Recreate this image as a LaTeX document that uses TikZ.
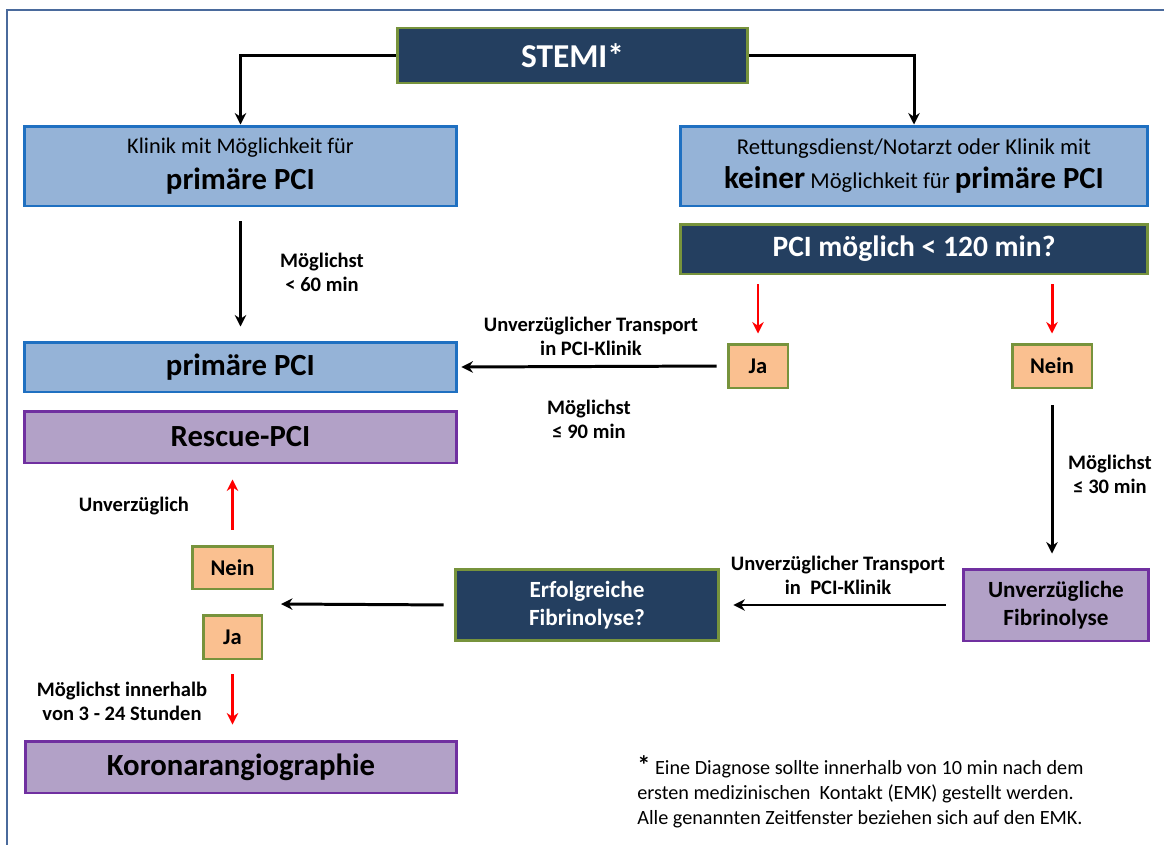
\documentclass[tikz,border=0pt]{standalone}
\usepackage{fontspec}
\setmainfont{Carlito}
\usetikzlibrary{arrows.meta,calc}
\definecolor{navy}{HTML}{243F60}
\definecolor{gborder}{HTML}{77933C}
\definecolor{bfill}{HTML}{95B3D7}
\definecolor{bborder}{HTML}{1F70C1}
\definecolor{pfill}{HTML}{B2A1C7}
\definecolor{pborder}{HTML}{7030A0}
\definecolor{ofill}{HTML}{FAC090}
\definecolor{framec}{HTML}{4A6A9C}
\definecolor{redc}{HTML}{FF0000}
\newcommand\fsz[1]{\fontsize{#1}{1.2\dimexpr#1pt\relax}\selectfont}
\begin{document}
\begin{tikzpicture}[x=0.02cm,y=-0.02cm,
  box/.style={draw, line width=1.7pt, inner sep=0pt, align=center},
  darkbox/.style={box, fill=navy, draw=gborder, text=white, font=\bfseries},
  bluebox/.style={box, fill=bfill, draw=bborder},
  purplebox/.style={box, fill=pfill, draw=pborder, font=\bfseries},
  yesno/.style={box, fill=ofill, draw=gborder, font=\bfseries\fsz{12.8}},
  lbl/.style={align=center, font=\bfseries\fontsize{11.7}{13.8}\selectfont, inner sep=0pt},
  arr/.style={line width=1.7pt, -{Stealth[length=6.5pt,width=6.5pt]}},
  redarr/.style={arr, draw=redc, -{Stealth[length=6.5pt,width=6.5pt,fill=redc]}}
]
\useasboundingbox (0,0) rectangle (1164,845);
\fill[white] (0,0) rectangle (1164,845);
\draw[framec, line width=1.2pt] (7,850) -- (7,10) -- (1170,10);

% nodes
\node[darkbox, minimum width=7.02cm, minimum height=1.10cm, font=\bfseries\fsz{19}] (stemi) at (572.5,55.5) {STEMI*};
\node[bluebox, minimum width=8.66cm, minimum height=1.60cm, font=\fsz{12.7}] (klinik) at (240.5,166)
  {Klinik mit Möglichkeit für\\[5pt] {\bfseries\fsz{17.5}primäre PCI}};
\node[bluebox, minimum width=9.36cm, minimum height=1.60cm, font=\fsz{12.9}] (rett) at (914,166)
  {Rettungsdienst/Notarzt oder Klinik mit\\[4pt]
   {\bfseries\fsz{17.8}keiner} Möglichkeit für {\bfseries\fsz{17.5}primäre PCI}};
\node[darkbox, minimum width=9.36cm, minimum height=1.00cm, font=\bfseries\fsz{16.8}] (pcim) at (914,249) {PCI möglich < 120 min?};
\node[bluebox, minimum width=8.66cm, minimum height=1.00cm, font=\bfseries\fsz{17.5}] (prim) at (240.5,367) {primäre PCI};
\node[purplebox, minimum width=8.66cm, minimum height=1.04cm, font=\bfseries\fsz{17.5}] (rescue) at (240.5,437) {Rescue-PCI};
\node[yesno, minimum width=1.20cm, minimum height=0.88cm] (ja1) at (758,366) {Ja};
\node[yesno, minimum width=1.60cm, minimum height=0.88cm] (nein1) at (1052,366) {Nein};
\node[purplebox, minimum width=3.72cm, minimum height=1.44cm, font=\bfseries\fontsize{13.2}{16}\selectfont] (fib) at (1056,605) {Unverzügliche\\Fibrinolyse};
\node[darkbox, minimum width=5.28cm, minimum height=1.42cm, font=\bfseries\fontsize{13.2}{16}\selectfont] (erf) at (587,605) {Erfolgreiche\\Fibrinolyse?};
\node[yesno, minimum width=1.62cm, minimum height=0.86cm] (nein2) at (232.5,567.5) {Nein};
\node[yesno, minimum width=1.18cm, minimum height=0.88cm] (ja2) at (232.5,637) {Ja};
\node[purplebox, minimum width=8.64cm, minimum height=1.04cm, font=\bfseries\fsz{17.5}] (koro) at (241,767) {Koronarangiographie};
\coordinate (split) at (281,604);

% connectors
\draw[arr] (stemi.west) -| (klinik.north);
\draw[arr] (stemi.east) -| (rett.north);
\draw[arr, shorten <=0.28cm, shorten >=0.28cm] (klinik.south) -- (prim.north);
\draw[redarr, shorten <=0.18cm, shorten >=0.18cm] (ja1.north |- pcim.south) -- (ja1.north);
\draw[redarr, shorten <=0.18cm, shorten >=0.18cm] (nein1.north |- pcim.south) -- (nein1.north);
\draw[arr, shorten <=0.2cm, shorten >=0.06cm] (ja1.west) -- (prim.east);
\draw[arr, shorten <=0.32cm, shorten >=0.28cm] (nein1.south) -- (nein1.south |- fib.north);
\draw[arr, shorten <=0.32cm, shorten >=0.26cm] (fib.west) -- (erf.east);
\draw[arr, shorten <=0.2cm] (erf.west) -- (split);
\draw[redarr, shorten <=0.3cm, shorten >=0.3cm] (nein2.north) -- (nein2.north |- rescue.south);
\draw[redarr, shorten <=0.28cm, shorten >=0.3cm] (ja2.south) -- (ja2.south |- koro.north);

% labels
\node[lbl] (l60) at (322,272) {Möglichst\\< 60 min};
\node[lbl] (ltr1) at (591,336) {Unverzüglicher Transport\\in PCI-Klinik};
\node[lbl] (l90) at (589,419) {Möglichst\\≤ 90 min};
\node[lbl] (l30) at (1110,474) {Möglichst\\≤ 30 min};
\node[lbl] (ltr2) at (838,575) {Unverzüglicher Transport\\in\ \ PCI-Klinik};
\node[lbl] (lunv) at (134,506) {Unverzüglich};
\node[lbl] (l324) at (122,701) {Möglichst innerhalb\\von 3 - 24 Stunden};

% footnote
\node[anchor=west, align=left, inner sep=0pt, font=\fontsize{11.5}{14.3}\selectfont] (foot) at (637,792)
  {{\bfseries\fsz{15}*} Eine Diagnose sollte innerhalb von 10 min nach dem\\
   ersten medizinischen\ \ Kontakt (EMK) gestellt werden.\\
   Alle genannten Zeitfenster beziehen sich auf den EMK.};
\end{tikzpicture}
\end{document}
